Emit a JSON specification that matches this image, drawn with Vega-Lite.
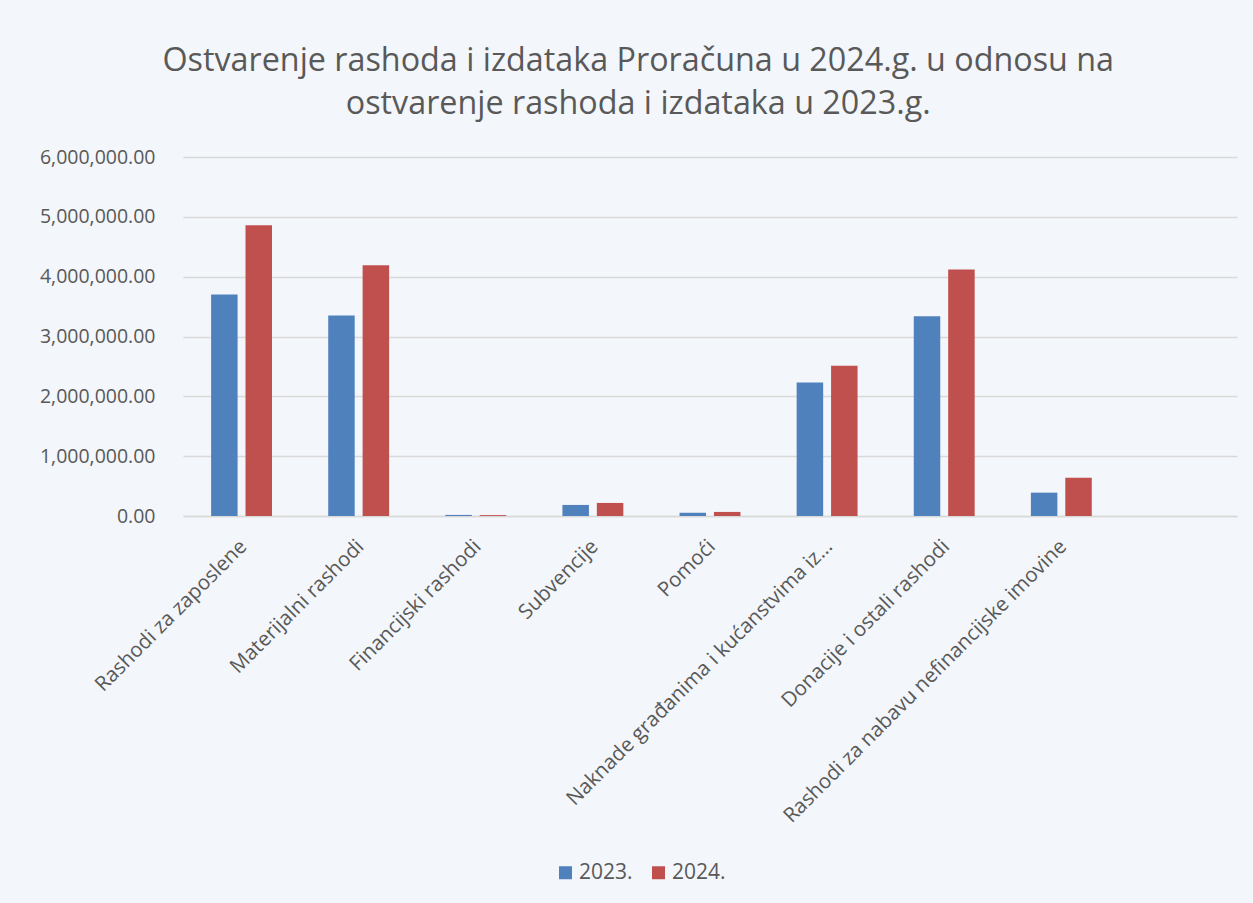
{
  "$schema": "https://vega.github.io/schema/vega-lite/v6.json",
  "autosize": "none",
  "width": 1054,
  "height": 359,
  "padding": {"left": 183, "top": 157, "right": 16, "bottom": 387},
  "background": "#f3f6fa",
  "title": {
    "text": ["Ostvarenje rashoda i izdataka Proračuna u 2024.g. u odnosu na", "ostvarenje rashoda i izdataka u 2023.g."],
    "font": "Open Sans",
    "fontSize": 32.3,
    "fontWeight": "normal",
    "color": "#595959",
    "anchor": "middle",
    "frame": "bounds",
    "lineHeight": 43,
    "offset": 27
  },
  "data": {
    "values": [
      {"kategorija": "Rashodi za zaposlene", "godina": "2023.", "iznos": 3700000},
      {"kategorija": "Rashodi za zaposlene", "godina": "2024.", "iznos": 4860000},
      {"kategorija": "Materijalni rashodi", "godina": "2023.", "iznos": 3350000},
      {"kategorija": "Materijalni rashodi", "godina": "2024.", "iznos": 4190000},
      {"kategorija": "Financijski rashodi", "godina": "2023.", "iznos": 18000},
      {"kategorija": "Financijski rashodi", "godina": "2024.", "iznos": 15000},
      {"kategorija": "Subvencije", "godina": "2023.", "iznos": 185000},
      {"kategorija": "Subvencije", "godina": "2024.", "iznos": 218000},
      {"kategorija": "Pomoći", "godina": "2023.", "iznos": 55000},
      {"kategorija": "Pomoći", "godina": "2024.", "iznos": 68000},
      {"kategorija": "Naknade građanima i kućanstvima iz…", "godina": "2023.", "iznos": 2230000},
      {"kategorija": "Naknade građanima i kućanstvima iz…", "godina": "2024.", "iznos": 2510000},
      {"kategorija": "Donacije i ostali rashodi", "godina": "2023.", "iznos": 3340000},
      {"kategorija": "Donacije i ostali rashodi", "godina": "2024.", "iznos": 4120000},
      {"kategorija": "Rashodi za nabavu nefinancijske imovine", "godina": "2023.", "iznos": 390000},
      {"kategorija": "Rashodi za nabavu nefinancijske imovine", "godina": "2024.", "iznos": 640000}
    ]
  },
  "mark": {"type": "bar"},
  "encoding": {
    "x": {
      "field": "kategorija",
      "type": "nominal",
      "scale": {
        "domain": ["Rashodi za zaposlene", "Materijalni rashodi", "Financijski rashodi", "Subvencije", "Pomoći", "Naknade građanima i kućanstvima iz…", "Donacije i ostali rashodi", "Rashodi za nabavu nefinancijske imovine", " "],
        "paddingInner": 0.48,
        "paddingOuter": 0.24
      },
      "axis": {
        "title": null,
        "labelAngle": -45,
        "labelFont": "Open Sans",
        "labelFontSize": 20.5,
        "labelColor": "#595959",
        "labelPadding": 20,
        "labelOffset": -5,
        "labelLimit": 500,
        "ticks": false,
        "domain": true,
        "domainColor": "#d9d9d9",
        "domainWidth": 1.5,
        "grid": false
      }
    },
    "xOffset": {
      "field": "godina",
      "type": "nominal",
      "scale": {"paddingInner": 0.23, "paddingOuter": 0}
    },
    "y": {
      "field": "iznos",
      "type": "quantitative",
      "scale": {"domain": [0, 6000000], "nice": false},
      "axis": {
        "title": null,
        "values": [0, 1000000, 2000000, 3000000, 4000000, 5000000, 6000000],
        "format": ",.2f",
        "labelFont": "Open Sans",
        "labelFontSize": 19.5,
        "labelColor": "#595959",
        "labelPadding": 28,
        "ticks": false,
        "domain": false,
        "grid": true,
        "gridColor": "#d9d9d9",
        "gridWidth": 1.5
      }
    },
    "color": {
      "field": "godina",
      "type": "nominal",
      "scale": {"domain": ["2023.", "2024."], "range": ["#4f81bd", "#c0504d"]},
      "legend": {
        "title": null,
        "orient": "none",
        "direction": "horizontal",
        "legendX": 372,
        "legendY": 705,
        "symbolType": "square",
        "symbolSize": 169,
        "symbolStrokeWidth": 0,
        "labelFont": "Open Sans",
        "labelFontSize": 21,
        "labelColor": "#595959",
        "columnPadding": 15,
        "labelOffset": 3
      }
    }
  },
  "config": {
    "view": {"stroke": null}
  }
}
